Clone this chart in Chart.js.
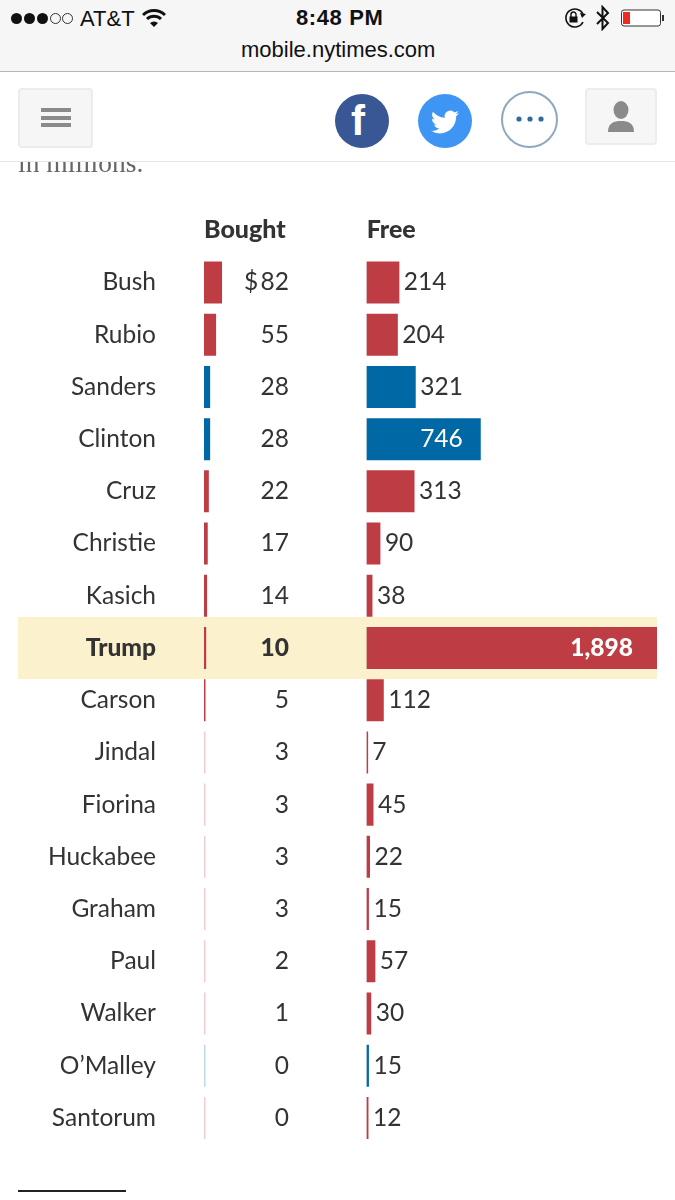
<!DOCTYPE html>
<html>
<head>
<meta charset="utf-8">
<title>Bought and free media</title>
<script src="https://cdn.jsdelivr.net/npm/chart.js@4"></script>
<style>
    html, body { margin: 0; padding: 0; background: #fff; overflow: hidden; }
    #page { position: relative; width: 675px; height: 1200px; overflow: hidden; font-family: Lato, sans-serif; }
    #page div, #page svg, #page span { position: absolute; }
    canvas { position: absolute; left: 0; top: 0; }
    #intro { left: 18px; top: 150px; font: 27.5px/26px "Liberation Serif", serif; color: #666; white-space: nowrap; }
    #status { left: 0; top: 0; width: 675px; height: 71px; background: #f6f6f6; border-bottom: 1px solid #b4b4b4;
        font-family: "Liberation Sans", sans-serif; color: #111; }
    #status span { white-space: nowrap; }
    .dot { width: 11px; height: 11px; border-radius: 50%; top: 13px; background: #111; box-sizing: border-box; }
    .dot.off { background: none; border: 1px solid #333; }
    #nav { left: 0; top: 72px; width: 675px; height: 89px; background: #fff; border-bottom: 1px solid #e6e6e6; }
    .box { background: #f6f6f6; border: 2px solid #ececec; border-radius: 4px; box-sizing: border-box; }
    .bar3 { left: 41px; width: 30px; height: 4px; background: #8a8a8a; }
    .round { border-radius: 50%; box-sizing: border-box; }
    #rule { left: 18px; top: 1190px; width: 108px; height: 2px; background: #222; }
</style>
</head>
<body>
<div id="page">
    <canvas id="mediaChart" width="675" height="1200"></canvas>
    <div id="intro">in millions.</div>
    <div id="status">
        <div class="dot" style="left:11px"></div>
        <div class="dot" style="left:24px"></div>
        <div class="dot" style="left:37px"></div>
        <div class="dot off" style="left:50px"></div>
        <div class="dot off" style="left:62px"></div>
        <span style="left:80px;top:6px;font-size:22px">AT&amp;T</span>
        <svg style="left:142px;top:8px" width="24" height="20" viewBox="0 0 24 20">
            <path d="M1 7 A16 16 0 0 1 23 7" fill="none" stroke="#111" stroke-width="3"/>
            <path d="M5 11 A10 10 0 0 1 19 11" fill="none" stroke="#111" stroke-width="3"/>
            <path d="M8 15 L12 19 L16 15 A6 6 0 0 0 8 15 Z" fill="#111"/>
        </svg>
        <span style="left:296px;top:5px;font-size:22px;font-weight:bold;letter-spacing:0.6px">8:48 PM</span>
        <span style="left:241px;top:37px;font-size:22px">mobile.nytimes.com</span>
        <svg style="left:563px;top:7px" width="24" height="22" viewBox="0 0 24 22">
            <path d="M20 15 A9 9 0 1 1 20 7" fill="none" stroke="#111" stroke-width="1.6"/>
            <path d="M23 7 L19 11 L17 6 Z" fill="#111"/>
            <rect x="6.5" y="9.5" width="8" height="6" fill="#111"/>
            <path d="M8 10 V7.5 A2.5 2.5 0 0 1 13 7.5 V10" fill="none" stroke="#111" stroke-width="1.4"/>
        </svg>
        <svg style="left:596px;top:5px" width="14" height="26" viewBox="0 0 14 26">
            <path d="M1 7 L12 18 L6.5 24 V2 L12 8 L1 19" fill="none" stroke="#111" stroke-width="2"/>
        </svg>
        <svg style="left:620px;top:9px" width="46" height="18" viewBox="0 0 46 18">
            <rect x="1.5" y="1" width="39" height="16" rx="2.5" fill="#fff" stroke="#333" stroke-width="1"/>
            <rect x="3" y="3" width="7" height="12" fill="#ee2a24"/>
            <rect x="42" y="6" width="2" height="6" fill="#333"/>
        </svg>
    </div>
    <div id="nav">
        <div class="box" style="left:18px;top:16px;width:75px;height:60px"></div>
        <div class="bar3" style="top:36px"></div>
        <div class="bar3" style="top:44px"></div>
        <div class="bar3" style="top:51px"></div>
        <div class="round" style="left:335px;top:22px;width:54px;height:54px;background:#3a5795"></div>
        <span style="left:351px;top:25px;font:bold 42px/48px 'Liberation Sans',sans-serif;color:#fff">f</span>
        <div class="round" style="left:418px;top:22px;width:54px;height:54px;background:#3f95f4"></div>
        <svg style="left:431px;top:36px" width="28" height="28" viewBox="0 0 24 24">
            <path fill="#fff" d="M23.953 4.57a10 10 0 01-2.825.775 4.958 4.958 0 002.163-2.723c-.951.555-2.005.959-3.127 1.184a4.92 4.92 0 00-8.384 4.482C7.69 8.095 4.067 6.13 1.64 3.162a4.822 4.822 0 00-.666 2.475c0 1.71.87 3.213 2.188 4.096a4.904 4.904 0 01-2.228-.616v.06a4.923 4.923 0 003.946 4.827 4.996 4.996 0 01-2.212.085 4.936 4.936 0 004.604 3.417 9.867 9.867 0 01-6.102 2.105c-.39 0-.779-.023-1.17-.067a13.995 13.995 0 007.557 2.209c9.053 0 13.998-7.496 13.998-13.985 0-.21 0-.42-.015-.63A9.935 9.935 0 0024 4.59z"/>
        </svg>
        <div class="round" style="left:501px;top:19px;width:57px;height:57px;background:#fff;border:2px solid #8fa8bf"></div>
        <svg style="left:515px;top:42px" width="30" height="10" viewBox="0 0 30 10">
            <circle cx="4" cy="5" r="2.6" fill="#2d6a9f"/>
            <circle cx="15" cy="5" r="2.6" fill="#2d6a9f"/>
            <circle cx="26" cy="5" r="2.6" fill="#2d6a9f"/>
        </svg>
        <div class="box" style="left:585px;top:16px;width:72px;height:57px"></div>
        <svg style="left:606px;top:29px" width="30" height="32" viewBox="0 0 30 32">
            <ellipse cx="15" cy="9" rx="7.5" ry="9" fill="#8a8a8a"/>
            <path d="M2 31 C2 22 8 20 15 20 C22 20 28 22 28 31 Z" fill="#8a8a8a"/>
        </svg>
    </div>
    <div id="rule"></div>
</div>

<script>
const candidates = ['Bush', 'Rubio', 'Sanders', 'Clinton', 'Cruz', 'Christie', 'Kasich', 'Trump', 'Carson',
    'Jindal', 'Fiorina', 'Huckabee', 'Graham', 'Paul', 'Walker', "O\u2019Malley", 'Santorum'];
const parties = ['R', 'R', 'D', 'D', 'R', 'R', 'R', 'R', 'R', 'R', 'R', 'R', 'R', 'R', 'R', 'D', 'R'];
const bought = [82, 55, 28, 28, 22, 17, 14, 10, 5, 3, 3, 3, 3, 2, 1, 0, 0];
const free = [214, 204, 321, 746, 313, 90, 38, 1898, 112, 7, 45, 22, 15, 57, 30, 15, 12];
const insideLabels = ['Clinton', 'Trump'];
const highlighted = 'Trump';

const partyColor = { R: '#be3c43', D: '#0068a4' };
const textColor = '#333';
const barColors = parties.map((p) => partyColor[p]);
// bars under a pixel wide come out as a pale hairline in the original
const boughtColors = parties.map((p, i) => bought[i] <= 3 ? partyColor[p] + '40' : partyColor[p]);

const tableText = {
    id: 'tableText',
    beforeDraw(chart) {
        const { ctx, scales } = chart;
        const rowY = scales.y.getPixelForValue(candidates.indexOf(highlighted));
        ctx.save();
        ctx.fillStyle = '#fbf1cd';
        ctx.fillRect(18, rowY - 31, 639, 62);
        ctx.restore();
    },
    afterDatasetsDraw(chart) {
        const { ctx, scales } = chart;
        const boughtX = scales.xBought.getPixelForValue(0);
        const freeX = scales.xFree.getPixelForValue(0);
        ctx.save();
        ctx.textBaseline = 'middle';

        ctx.font = '900 25px Lato';
        ctx.fillStyle = textColor;
        ctx.textAlign = 'left';
        ctx.fillText('Bought', boughtX, 230);
        ctx.fillText('Free', freeX, 230);

        candidates.forEach((name, i) => {
            const y = scales.y.getPixelForValue(i);
            const bold = name === highlighted;
            ctx.font = (bold ? '900 ' : '400 ') + '24.5px Lato';

            ctx.fillStyle = textColor;
            ctx.textAlign = 'right';
            ctx.fillText(name, 156, y);
            ctx.fillText(String(bought[i]), boughtX + 85, y);
            if (i === 0) {
                ctx.textAlign = 'left';
                ctx.fillText('$', boughtX + 40, y);
            }

            const end = scales.xFree.getPixelForValue(free[i]);
            const label = free[i].toLocaleString('en-US');
            if (insideLabels.includes(name)) {
                ctx.fillStyle = '#fff';
                ctx.textAlign = 'right';
                ctx.fillText(label, end - (bold ? 24 : 18), y);
            } else {
                ctx.fillStyle = textColor;
                ctx.textAlign = 'left';
                ctx.fillText(label, end + 4.5, y);
            }
        });
        ctx.restore();
    }
};

new Chart(document.getElementById('mediaChart'), {
    type: 'bar',
    plugins: [tableText],
    data: {
        labels: candidates,
        datasets: [
            {
                label: 'Bought',
                data: bought,
                xAxisID: 'xBought',
                backgroundColor: boughtColors,
                minBarLength: 1.5,
                barPercentage: 0.805,
                categoryPercentage: 1,
                grouped: false
            },
            {
                label: 'Free',
                data: free,
                xAxisID: 'xFree',
                backgroundColor: barColors,
                minBarLength: 1.5,
                barPercentage: 0.805,
                categoryPercentage: 1,
                grouped: false
            }
        ]
    },
    options: {
        indexAxis: 'y',
        responsive: false,
        animation: false,
        layout: {
            padding: { top: 256.4, bottom: 56, left: 0, right: 18 }
        },
        plugins: {
            legend: { display: false },
            tooltip: { enabled: false }
        },
        scales: {
            xBought: { display: false, min: 0, max: 2059 },
            xFree: { display: false, min: -1063, max: 1898 },
            y: {
                afterFit: (scale) => { scale.width = 204; },
                grid: { display: false },
                border: { display: false },
                ticks: { display: false }
            }
        }
    }
});
</script>
</body>
</html>
